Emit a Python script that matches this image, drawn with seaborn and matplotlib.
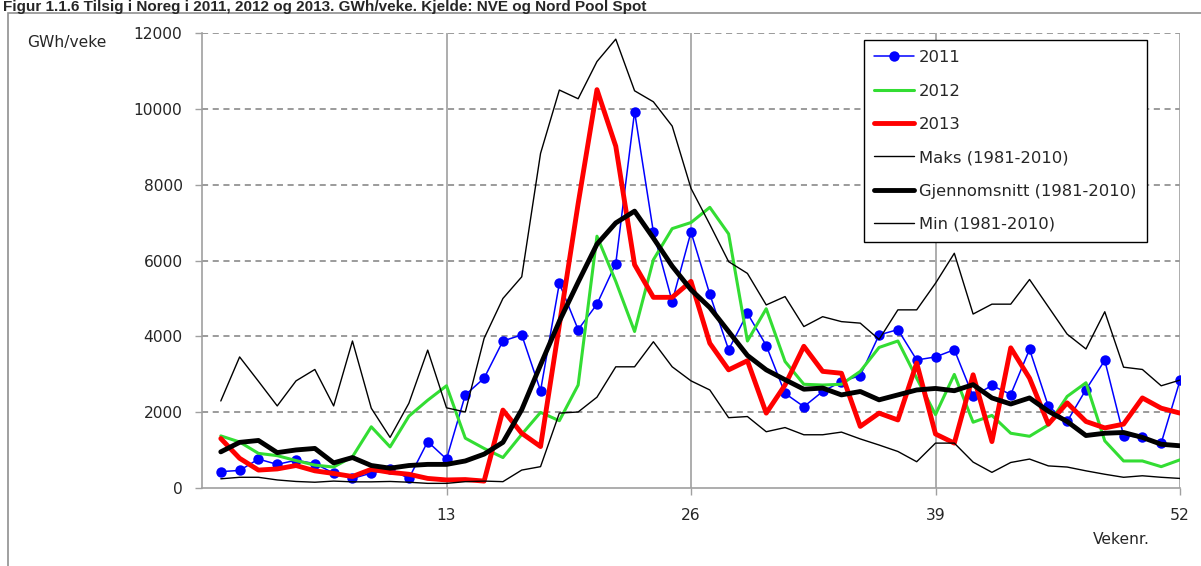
import numpy as np
import pandas as pd
import matplotlib
matplotlib.use('Agg')
import matplotlib.pyplot as plt
import seaborn as sns
from matplotlib.patches import Rectangle

# Tilsig per veke, GWh/veke, lese av frå figuren
weeks = list(range(1, 53))

y2011 = [440, 470, 770, 630, 740, 650, 400, 260, 400, 500, 260, 1230, 770,
         2460, 2900, 3880, 4040, 2570, 5400, 4180, 4850, 5920, 9920, 6750, 4920, 6750,
         5110, 3650, 4610, 3760, 2500, 2150, 2550, 2810, 2970, 4040, 4180, 3380, 3460,
         3650, 2420, 2710, 2470, 3660, 2160, 1760, 2600, 3370, 1390, 1340, 1190, 2840]

y2012 = [1380, 1220, 920, 860, 730, 610, 560, 830, 1620, 1090, 1900, 2320, 2700,
         1320, 1050, 810, 1420, 2000, 1780, 2720, 6640, 5450, 4130, 6020, 6840, 7000,
         7400, 6700, 3880, 4730, 3340, 2740, 2720, 2740, 3080, 3710, 3880, 2900, 1940,
         3000, 1740, 1920, 1450, 1370, 1670, 2420, 2780, 1250, 720, 720, 570, 750]

y2013 = [1310, 790, 480, 510, 600, 460, 390, 310, 500, 420, 370, 260, 220,
         230, 190, 2060, 1450, 1100, 4300, 7500, 10500, 9010, 5890, 5030, 5030, 5450,
         3820, 3120, 3360, 1980, 2720, 3740, 3080, 3030, 1630, 1980, 1800, 3300, 1430,
         1190, 2990, 1230, 3700, 2900, 1690, 2250, 1760, 1590, 1690, 2380, 2110, 1980]

maks = [2300, 3460, 2820, 2170, 2830, 3130, 2170, 3880, 2110, 1340, 2240, 3640, 2120,
        2010, 3950, 5000, 5570, 8820, 10490, 10260, 11240, 11830, 10470, 10180, 9540, 7900,
        6950, 5970, 5660, 4830, 5050, 4260, 4520, 4390, 4350, 3920, 4700, 4700, 5400,
        6190, 4590, 4850, 4850, 5500, 4780, 4060, 3670, 4650, 3190, 3130, 2700, 2850]

snitt = [960, 1210, 1260, 940, 1010, 1050, 670, 810, 600, 530, 600, 630, 630,
         720, 900, 1210, 2070, 3250, 4400, 5430, 6430, 6990, 7300, 6590, 5850, 5230,
         4760, 4130, 3500, 3120, 2860, 2610, 2640, 2460, 2550, 2330, 2460, 2590, 2630,
         2570, 2730, 2380, 2220, 2380, 2030, 1760, 1390, 1450, 1470, 1340, 1160, 1120]

minv = [250, 290, 290, 220, 180, 160, 190, 170, 170, 180, 160, 130, 130,
        175, 190, 175, 480, 570, 1980, 2010, 2400, 3200, 3200, 3860, 3200, 2830,
        2590, 1860, 1890, 1490, 1600, 1410, 1410, 1480, 1300, 1140, 970, 700, 1190,
        1190, 690, 420, 680, 770, 590, 560, 460, 370, 290, 330, 290, 260]

series_names = ['2011', '2012', '2013', 'Maks (1981-2010)',
                'Gjennomsnitt (1981-2010)', 'Min (1981-2010)']
series_values = [y2011, y2012, y2013, maks, snitt, minv]

df = pd.DataFrame({
    'Veke': weeks * len(series_names),
    'GWh': sum(series_values, []),
    'Serie': np.repeat(series_names, len(weeks)),
})

sns.set_style('white')
plt.rcParams['font.family'] = ['DejaVu Sans']
fs = 11.2

fig = plt.figure(figsize=(12.01, 5.66), dpi=100)
ax = fig.add_axes([202 / 1201, 1 - 488.3 / 566, (1180 - 202) / 1201, (488.3 - 32.7) / 566])

styles = {
    '2011': dict(color='#0000ff', linewidth=1.1, marker='o', markersize=7.5, markeredgewidth=0),
    '2012': dict(color='#33dd33', linewidth=2.2),
    '2013': dict(color='#ff0000', linewidth=3.5),
    'Maks (1981-2010)': dict(color='black', linewidth=1.0),
    'Gjennomsnitt (1981-2010)': dict(color='black', linewidth=3.5),
    'Min (1981-2010)': dict(color='black', linewidth=1.0),
}

for i, name in enumerate(series_names):
    sub = df[df['Serie'] == name]
    sns.lineplot(data=sub, x='Veke', y='GWh', ax=ax, label=name, zorder=3 + i, **styles[name])

ax.set_xlim(0, 52)
ax.set_ylim(0, 12000)
ax.set_xticks([13, 26, 39, 52])
ax.set_yticks(range(0, 12001, 2000))
ax.set_xlabel('')
ax.set_ylabel('')

# rutenett: stipla vassrett, heile loddrett
for v in range(2000, 12001, 2000):
    ax.axhline(v, color='#808080', linestyle=(0, (4, 3)), linewidth=1.1, zorder=1)
for w in [13, 26, 39, 52]:
    ax.axvline(w, color='#a0a0a0', linewidth=1.2, zorder=1)

for side in ['top', 'right']:
    ax.spines[side].set_visible(False)
for side in ['left', 'bottom']:
    ax.spines[side].set_color('#a0a0a0')
    ax.spines[side].set_linewidth(1.2)

ax.tick_params(axis='y', left=True, length=5, width=1, color='#a0a0a0', labelsize=fs, pad=9)
ax.tick_params(axis='x', bottom=True, length=5, width=1, color='#a0a0a0', labelsize=fs, pad=9)

leg = ax.legend(loc='upper left', bbox_to_anchor=((864 - 202) / 978, 1 - (40 - 32.7) / 455.6),
                frameon=True, fancybox=False, framealpha=1, fontsize=11.8, handlelength=2.45,
                labelspacing=1.12, borderpad=0.62, handletextpad=0.3, borderaxespad=0)
leg.get_frame().set_edgecolor('black')
leg.get_frame().set_linewidth(1.0)
leg.set_zorder(20)

fig.text(27 / 1201, 1 - 42 / 566, 'GWh/veke', fontsize=fs, va='center', ha='left')
fig.text(1121 / 1201, 1 - 540 / 566, 'Vekenr.', fontsize=fs, va='center', ha='center')

fig.text(3 / 1201, 1 - 10.5 / 566, 'Figur 1.1.6 Tilsig i Noreg i 2011, 2012 og 2013. GWh/veke. Kjelde: NVE og Nord Pool Spot',
         fontsize=11, fontweight='bold', family=['Liberation Sans', 'DejaVu Sans'],
         va='baseline', ha='left')

fig.patches.append(Rectangle((8 / 1201, -0.05), 1.1, 1 - 13.5 / 566 + 0.05, transform=fig.transFigure,
                             fill=False, edgecolor='#909090', linewidth=1.2))

fig.savefig('out.png', dpi=100)
